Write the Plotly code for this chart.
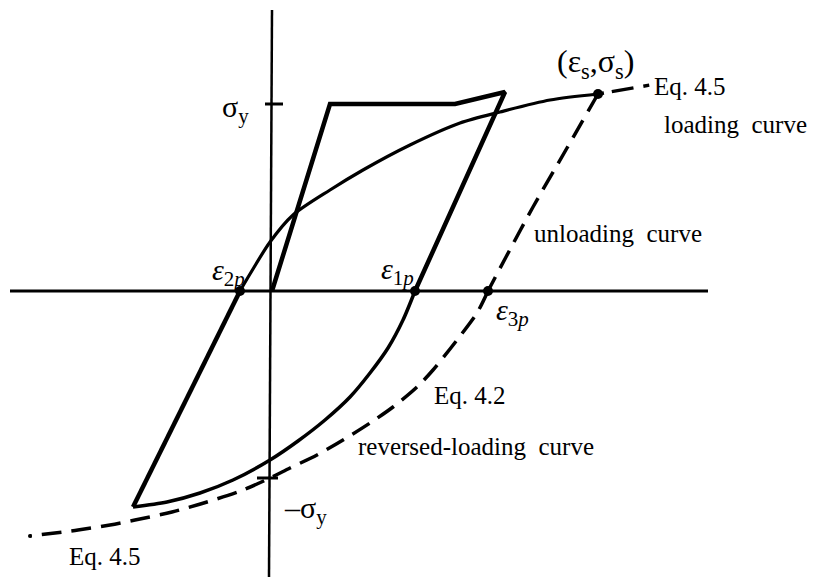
import plotly.graph_objects as go

# Axes of the stress-strain diagram
h_axis_x = [-2.60, 4.38]
h_axis_y = [0.0, 0.0]
v_axis_x = [0.02, -0.01]
v_axis_y = [2.81, -2.86]

sigma_y = 1.87

# First loading: elastic branch, yield plateau, strain hardening, then elastic unloading
load1_x = [0.02, 0.60, 1.85, 2.35, 1.45]
load1_y = [0.0, sigma_y, sigma_y, 1.99, 0.0]

# Reversed loading after unloading (Eq. 4.2) down to the reversal point
rev1_x = [1.45, 1.33, 1.18, 1.00, 0.80, 0.55, 0.28, 0.0, -0.37, -0.70, -1.03, -1.37]
rev1_y = [0.0, -0.29, -0.57, -0.82, -1.06, -1.29, -1.50, -1.69, -1.89, -2.02, -2.11, -2.16]

# Elastic reloading from reversal point to eps_2p
reload_x = [-1.37, -0.30]
reload_y = [-2.16, 0.0]

# Loading curve (Eq. 4.5) from eps_2p to (eps_s, sigma_s)
loadc_x = [-0.30, -0.20, 0.0, 0.23, 0.60, 0.93, 1.40, 1.90, 2.30, 2.80, 3.28]
loadc_y = [0.0, 0.17, 0.49, 0.76, 1.01, 1.21, 1.46, 1.68, 1.79, 1.91, 1.97]

# Extension of the loading curve beyond (eps_s, sigma_s)
loadext_x = [3.28, 3.55, 3.80]
loadext_y = [1.97, 2.02, 2.06]

# Unloading curve from (eps_s, sigma_s) to eps_3p
unload_x = [3.28, 2.97, 2.63, 2.36, 2.18]
unload_y = [1.97, 1.43, 0.84, 0.34, 0.0]

# Reversed-loading curve from eps_3p (Eq. 4.2 then Eq. 4.5)
rev2_x = [2.18, 2.07, 1.87, 1.63, 1.47, 1.23, 1.00, 0.73, 0.47, 0.20, 0.0, -0.27, -0.63,
          -0.98, -1.35, -1.60, -1.92, -2.40]
rev2_y = [0.0, -0.22, -0.49, -0.79, -0.96, -1.16, -1.32, -1.49, -1.64, -1.77, -1.87, -1.99,
          -2.11, -2.21, -2.29, -2.34, -2.39, -2.45]

# Marked points: eps_2p, eps_1p, eps_3p, (eps_s, sigma_s)
pts_x = [-0.30, 1.45, 2.18, 3.28]
pts_y = [0.0, 0.0, 0.0, 1.97]

# Tick marks at +/- sigma_y
tick_pos_x = [-0.05, 0.13]
tick_neg_x = [-0.13, 0.08]

fig = go.Figure()


def add_line(x, y, width, dash="solid", shape="linear"):
    fig.add_trace(go.Scatter(x=x, y=y, mode="lines",
                             line=dict(color="black", width=width, dash=dash,
                                       shape=shape, smoothing=0.8),
                             hoverinfo="skip", showlegend=False))


add_line(h_axis_x, h_axis_y, 3)
add_line(v_axis_x, v_axis_y, 2.5)
add_line(tick_pos_x, [sigma_y, sigma_y], 3)
add_line(tick_neg_x, [-sigma_y, -sigma_y], 3)
add_line(load1_x, load1_y, 4.5)
add_line(rev1_x, rev1_y, 3.5, shape="spline")
add_line(reload_x, reload_y, 4.5)
add_line(loadc_x, loadc_y, 3.2, shape="spline")
add_line(loadext_x, loadext_y, 3.5, dash="6px,8px,22px,10px")
add_line(unload_x, unload_y, 3.5, dash="20px,10px", shape="spline")
add_line(rev2_x, rev2_y, 3.5, dash="20px,10px", shape="spline")

fig.add_trace(go.Scatter(x=pts_x, y=pts_y, mode="markers",
                         marker=dict(color="black", size=10),
                         hoverinfo="skip", showlegend=False))
fig.add_trace(go.Scatter(x=[rev2_x[-1]], y=[rev2_y[-1]], mode="markers",
                         marker=dict(color="black", size=4),
                         hoverinfo="skip", showlegend=False))

serif = "Liberation Serif"
labels = [
    (-0.42, 0.19, "<i>ε</i><sub>2<i>p</i></sub>", "center", 30),
    (1.27, 0.20, "<i>ε</i><sub>1<i>p</i></sub>", "center", 30),
    (2.42, -0.21, "<i>ε</i><sub>3<i>p</i></sub>", "center", 30),
    (-0.35, 1.82, "σ<sub>y</sub>", "center", 30),
    (0.35, -2.19, "–σ<sub>y</sub>", "center", 30),
    (3.25, 2.28, "(ε<sub>s</sub>,σ<sub>s</sub>)", "center", 32),
    (3.82, 2.05, "Eq. 4.5", "left", 25),
    (3.92, 1.67, "loading  curve", "left", 25),
    (2.62, 0.58, "unloading  curve", "left", 25),
    (1.62, -1.04, "Eq. 4.2", "left", 25),
    (0.86, -1.55, "reversed-loading  curve", "left", 25),
    (-2.03, -2.65, "Eq. 4.5", "left", 25),
]
for x, y, t, anchor, size in labels:
    fig.add_annotation(x=x, y=y, text=t, showarrow=False, xanchor=anchor,
                       yanchor="middle",
                       font=dict(family=serif, size=size, color="black"))

fig.update_layout(
    width=815, height=577,
    margin=dict(l=0, r=0, t=0, b=0),
    paper_bgcolor="white", plot_bgcolor="white",
    xaxis=dict(range=[-2.70, 5.45], visible=False, fixedrange=True),
    yaxis=dict(range=[-2.86, 2.91], visible=False, fixedrange=True),
)

fig.write_html("out.html")
